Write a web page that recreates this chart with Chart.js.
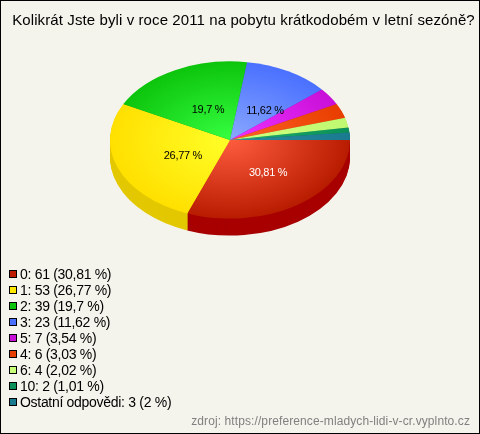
<!DOCTYPE html>
<html>
<head>
<meta charset="utf-8">
<script src="https://cdn.jsdelivr.net/npm/chart.js@4"></script>
<style>
  html, body { margin: 0; padding: 0; background: #f5f4ec; }
  canvas { display: block; }
</style>
</head>
<body>
<canvas id="chart" width="480" height="434"></canvas>
<script>
const titleText = 'Kolikrát Jste byli v roce 2011 na pobytu krátkodobém v letní sezóně?';
const sourceText = 'zdroj: https://preference-mladych-lidi-v-cr.vyplnto.cz';

const categories = ['0', '1', '2', '3', '5', '4', '6', '10', 'Ostatní odpovědi'];
const counts = [61, 53, 39, 23, 7, 6, 4, 2, 3];
const percents = ['30,81', '26,77', '19,7', '11,62', '3,54', '3,03', '2,02', '1,01', '2'];

const innerColors = ['#ff5c3e', '#ffff28', '#36ff40', '#8aa8ff', '#f032ff', '#ff6226', '#d0ff80', '#1fae6e', '#2a8aa0'];
const outerColors = ['#b81c00', '#ffe000', '#0cc40c', '#4a70ff', '#c810d8', '#e83e00', '#c0f870', '#0a9058', '#1a7a90'];
const sideColors = ['#a80000', '#e3c800', '#0a9a0a', '#3050c0', '#a000b0', '#b83000', '#98c858', '#087048', '#145f70'];
const legendColors = ['#c01c00', '#ffe800', '#0cc40c', '#4a70ff', '#c810d8', '#e83e00', '#c8ff78', '#0a9058', '#1a7a90'];

// how far out each slice's percent label sits, only the big slices get one
const labelRadiusX = [0.56, 0.42, 0.40, 0.60];
const labelRadiusY = [0.49, 0.55, 0.44, 0.43];
const labelColors = ['#ffffff', '#000000', '#000000', '#000000'];

const squash = 0.655;
const depth = 17;
const font = '"Liberation Sans", Arial, sans-serif';

const applySquash = (chart, ctx) => {
  const meta = chart.getDatasetMeta(0).data[0];
  ctx.translate(meta.x, meta.y);
  ctx.scale(1, squash);
  ctx.translate(-meta.x, -meta.y);
};

const pie3d = {
  id: 'pie3d',
  beforeDraw(chart) {
    const ctx = chart.ctx;
    ctx.save();
    ctx.fillStyle = '#f5f4ec';
    ctx.fillRect(0, 0, chart.width, chart.height);
    ctx.strokeStyle = '#000000';
    ctx.lineWidth = 1;
    ctx.strokeRect(0.5, 0.5, chart.width - 1, chart.height - 1);
    ctx.restore();
  },
  beforeDatasetsDraw(chart) {
    const ctx = chart.ctx;
    const arcs = chart.getDatasetMeta(0).data;
    // side wall: the same arcs stacked downwards in the dark colours
    for (let d = depth; d >= 1; d--) {
      ctx.save();
      ctx.translate(0, d);
      applySquash(chart, ctx);
      arcs.forEach((arc, i) => {
        const opts = arc.options;
        arc.options = Object.assign({}, opts, { backgroundColor: sideColors[i], borderColor: sideColors[i] });
        arc.draw(ctx);
        arc.options = opts;
      });
      ctx.restore();
    }
    ctx.save();
    applySquash(chart, ctx);
  },
  afterDatasetsDraw(chart) {
    const ctx = chart.ctx;
    ctx.restore();

    const arcs = chart.getDatasetMeta(0).data;
    ctx.save();
    ctx.font = '11px ' + font;
    ctx.letterSpacing = '-0.3px';
    ctx.textAlign = 'center';
    ctx.textBaseline = 'middle';
    labelRadiusX.forEach((frac, i) => {
      const arc = arcs[i];
      const mid = (arc.startAngle + arc.endAngle) / 2;
      ctx.fillStyle = labelColors[i];
      ctx.fillText(percents[i] + ' %',
        arc.x + Math.cos(mid) * arc.outerRadius * frac,
        arc.y + Math.sin(mid) * arc.outerRadius * labelRadiusY[i] * squash + 1);
    });

    ctx.fillStyle = '#000000';
    ctx.font = '15px ' + font;
    ctx.letterSpacing = '0.1px';
    ctx.textAlign = 'center';
    ctx.fillText(titleText, 243.5, 21);

    ctx.font = '14px ' + font;
    ctx.letterSpacing = '-0.3px';
    ctx.textAlign = 'left';
    categories.forEach((name, i) => {
      const y = 274 + i * 16;
      ctx.fillStyle = legendColors[i];
      ctx.fillRect(9, y - 4, 8, 8);
      ctx.strokeStyle = '#000000';
      ctx.lineWidth = 1;
      ctx.strokeRect(9.5, y - 3.5, 7, 7);
      ctx.fillStyle = '#000000';
      ctx.fillText(`${name}: ${counts[i]} (${percents[i]} %)`, 20, y + 1);
    });

    ctx.fillStyle = '#808080';
    ctx.font = '12px ' + font;
    ctx.letterSpacing = '0.1px';
    ctx.textAlign = 'right';
    ctx.fillText(sourceText, 470, 422);
    ctx.restore();
  }
};

new Chart(document.getElementById('chart'), {
  type: 'pie',
  data: {
    labels: categories,
    datasets: [{
      data: counts,
      borderWidth: 0,
      backgroundColor(context) {
        const { chart, dataIndex } = context;
        const area = chart.chartArea;
        if (!area) return innerColors[dataIndex];
        const cx = (area.left + area.right) / 2;
        const cy = (area.top + area.bottom) / 2;
        const g = chart.ctx.createRadialGradient(cx, cy, 0, cx, cy, 120);
        g.addColorStop(0, innerColors[dataIndex]);
        g.addColorStop(1, outerColors[dataIndex]);
        return g;
      }
    }]
  },
  options: {
    responsive: false,
    animation: false,
    rotation: 90,
    layout: { padding: { left: 110, right: 130, top: 20, bottom: 174 } },
    plugins: {
      legend: { display: false },
      title: { display: false },
      tooltip: { enabled: false }
    }
  },
  plugins: [pie3d]
});
</script>
</body>
</html>
